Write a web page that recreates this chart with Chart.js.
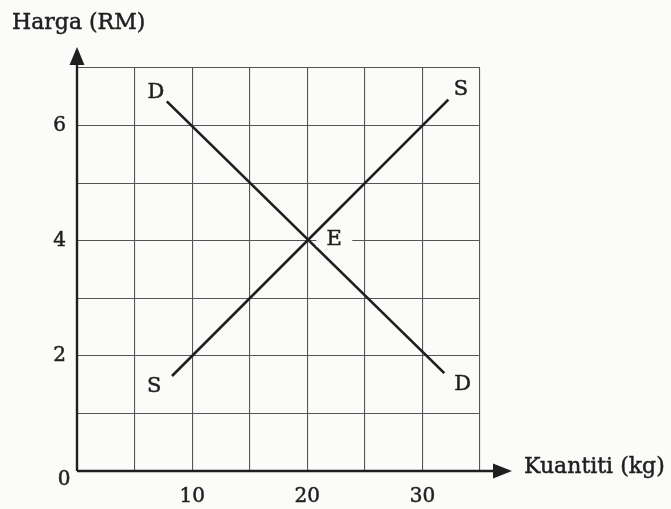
<!DOCTYPE html>
<html>
<head>
<meta charset="utf-8">
<script src="https://cdn.jsdelivr.net/npm/chart.js@4.4.1/dist/chart.umd.min.js"></script>
<style>
  html, body { margin: 0; padding: 0; background: #fbfbf9; }
  #wrap { width: 671px; height: 509px; }
</style>
</head>
<body>
<div id="wrap"><canvas id="chart" width="671" height="509"></canvas></div>
<script>
'use strict';

// ── Data ───────────────────────────────────────────
const supplyX = [8.25, 32.25];
const supplyY = [1.65, 6.45];
const demandX = [7.8, 31.9];
const demandY = [6.42, 1.7];
const xTickLabels = [10, 20, 30];
const yTickLabels = [2, 4, 6];
const equilibrium = { x: 20, y: 4 };

const ink = '#1f1f1f';
const gridInk = '#555555';
const paper = '#fbfbf9';
const serif = '"DejaVu Serif", "Liberation Serif", serif';

const toPoints = (xs, ys) => xs.map((x, i) => ({ x: x, y: ys[i] }));

// curve letters, in data units, offset from the line ends
const letters = [
    { t: 'D', x: 6.85, y: 6.57 },
    { t: 'S', x: 33.35, y: 6.62 },
    { t: 'S', x: 6.7, y: 1.46 },
    { t: 'D', x: 33.5, y: 1.5 },
];

// fill + thin stroke, to get the heavier printed look
function inkText(ctx, txt, x, y) {
    ctx.fillText(txt, x, y);
    ctx.strokeText(txt, x, y);
}

const overlay = {
    id: 'overlay',
    beforeDraw(chart) {
        const ctx = chart.ctx;
        ctx.save();
        ctx.fillStyle = paper;
        ctx.fillRect(0, 0, chart.width, chart.height);
        ctx.restore();
    },
    afterDraw(chart) {
        const ctx = chart.ctx;
        const xs = chart.scales.x, ys = chart.scales.y;
        const x0 = xs.getPixelForValue(0), y0 = ys.getPixelForValue(0);
        ctx.save();

        // axes with arrows
        ctx.strokeStyle = ink;
        ctx.fillStyle = ink;
        ctx.lineWidth = 2.4;
        ctx.beginPath();
        ctx.moveTo(x0, y0);
        ctx.lineTo(x0, 60);
        ctx.moveTo(x0, y0);
        ctx.lineTo(500, y0);
        ctx.stroke();
        ctx.beginPath();
        ctx.moveTo(x0, 47);
        ctx.lineTo(x0 - 7.5, 65);
        ctx.lineTo(x0 + 7.5, 65);
        ctx.closePath();
        ctx.fill();
        ctx.beginPath();
        ctx.moveTo(512, y0);
        ctx.lineTo(493, y0 - 7.5);
        ctx.lineTo(493, y0 + 7.5);
        ctx.closePath();
        ctx.fill();

        // titles
        ctx.lineWidth = 0.5;
        ctx.font = '22px ' + serif;
        ctx.textBaseline = 'alphabetic';
        ctx.textAlign = 'left';
        inkText(ctx, 'Harga (RM)', 12, 29);
        inkText(ctx, 'Kuantiti (kg)', 524, 473);
        ctx.font = '20px ' + serif;
        ctx.textAlign = 'center';
        ctx.textBaseline = 'middle';
        inkText(ctx, '0', 64, 480);

        // curve letters
        ctx.font = '21px ' + serif;
        letters.forEach(l => {
            inkText(ctx, l.t, xs.getPixelForValue(l.x), ys.getPixelForValue(l.y));
        });

        // equilibrium label with a gap in the grid line
        const ex = xs.getPixelForValue(equilibrium.x) + 27;
        const ey = ys.getPixelForValue(equilibrium.y);
        ctx.fillStyle = paper;
        ctx.fillRect(ex - 18, ey - 6, 36, 12);
        ctx.fillStyle = ink;
        inkText(ctx, 'E', ex, ey - 1);
        ctx.restore();
    }
};

const lineSet = (label, data) => ({
    label: label,
    data: data,
    showLine: true,
    borderColor: ink,
    borderWidth: 2.7,
    pointRadius: 0,
    fill: false,
});

const tickStyle = {
    color: ink,
    textStrokeColor: ink,
    textStrokeWidth: 0.5,
    font: { family: serif, size: 20 },
};

new Chart(document.getElementById('chart'), {
    type: 'scatter',
    data: {
        datasets: [
            lineSet('S', toPoints(supplyX, supplyY)),
            lineSet('D', toPoints(demandX, demandY)),
        ],
    },
    options: {
        responsive: false,
        animation: false,
        devicePixelRatio: 1,
        layout: { padding: { left: 0, right: 191, top: 68, bottom: 0 } },
        plugins: {
            legend: { display: false },
            tooltip: { enabled: false },
        },
        scales: {
            x: {
                type: 'linear',
                min: 0,
                max: 35,
                afterFit: (s) => { s.height = 38; },
                border: { display: false },
                grid: { color: gridInk, lineWidth: 1.1, drawTicks: false },
                ticks: Object.assign({
                    stepSize: 5,
                    padding: 14,
                    callback: (v) => xTickLabels.includes(v) ? String(v) : '',
                }, tickStyle),
            },
            y: {
                type: 'linear',
                min: 0,
                max: 7,
                afterFit: (s) => { s.width = 77; },
                border: { display: false },
                grid: { color: gridInk, lineWidth: 1.1, drawTicks: false },
                ticks: Object.assign({
                    stepSize: 1,
                    padding: 11,
                    callback: (v) => yTickLabels.includes(v) ? String(v) : '',
                }, tickStyle),
            },
        },
    },
    plugins: [overlay],
});
</script>
</body>
</html>
